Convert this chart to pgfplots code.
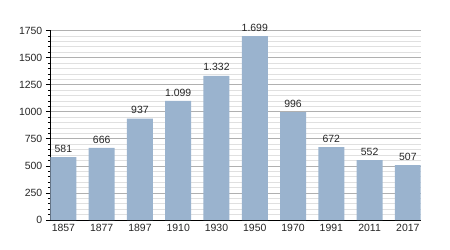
\documentclass[border=0pt]{standalone}
\usepackage{pgfplots}
\pgfplotsset{compat=1.18}
\usepackage{fontspec}
\setmainfont{Liberation Sans}
\definecolor{barblue}{RGB}{154,179,206}
\definecolor{majgrid}{RGB}{176,176,176}
\definecolor{mingrid}{RGB}{224,224,224}
\begin{document}
\fontsize{10.5}{12}\selectfont
\begin{tikzpicture}
\path[use as bounding box] (0,0) rectangle (450bp,250bp);
\begin{axis}[
  at={(50bp,30bp)}, anchor=south west,
  scale only axis, width=370.5bp, height=189.5bp,
  xmin=-0.35, xmax=9.33, ymin=0, ymax=1750,
  axis x line*=bottom, axis y line*=left,
  axis line style={black, line width=0.8bp},
  ybar, bar width=26bp,
  xtick={0,...,9},
  xticklabels={1857,1877,1897,1910,1930,1950,1970,1991,2011,2017},
  ytick={0,250,...,1750},
  yticklabels={0,250,500,750,1000,1250,1500,1750},
  minor ytick={0,50,...,1750},
  ymajorgrids, yminorgrids,
  major grid style={majgrid, line width=0.6bp},
  minor grid style={mingrid, line width=0.6bp},
  tick align=outside,
  major tick length=4bp, minor tick length=2bp,
  major x tick style={draw=none},
  y tick style={black, line width=0.6bp},
  /pgf/number format/assume math mode=true,
  /pgf/number format/1000 sep={.},
  nodes near coords,
  every node near coord/.append style={font=\fontsize{10.5}{12}\selectfont, yshift=1bp, text=black!85},
  tick label style={font=\fontsize{10.5}{12}\selectfont, text=black!85},
  xticklabel style={yshift=3bp},
  yticklabel style={xshift=0bp},
]
\addplot[fill=barblue, draw=none] coordinates {
  (0,581) (1,666) (2,937) (3,1099) (4,1332) (5,1699) (6,996) (7,672) (8,552) (9,507)
};
\end{axis}
\end{tikzpicture}
\end{document}
